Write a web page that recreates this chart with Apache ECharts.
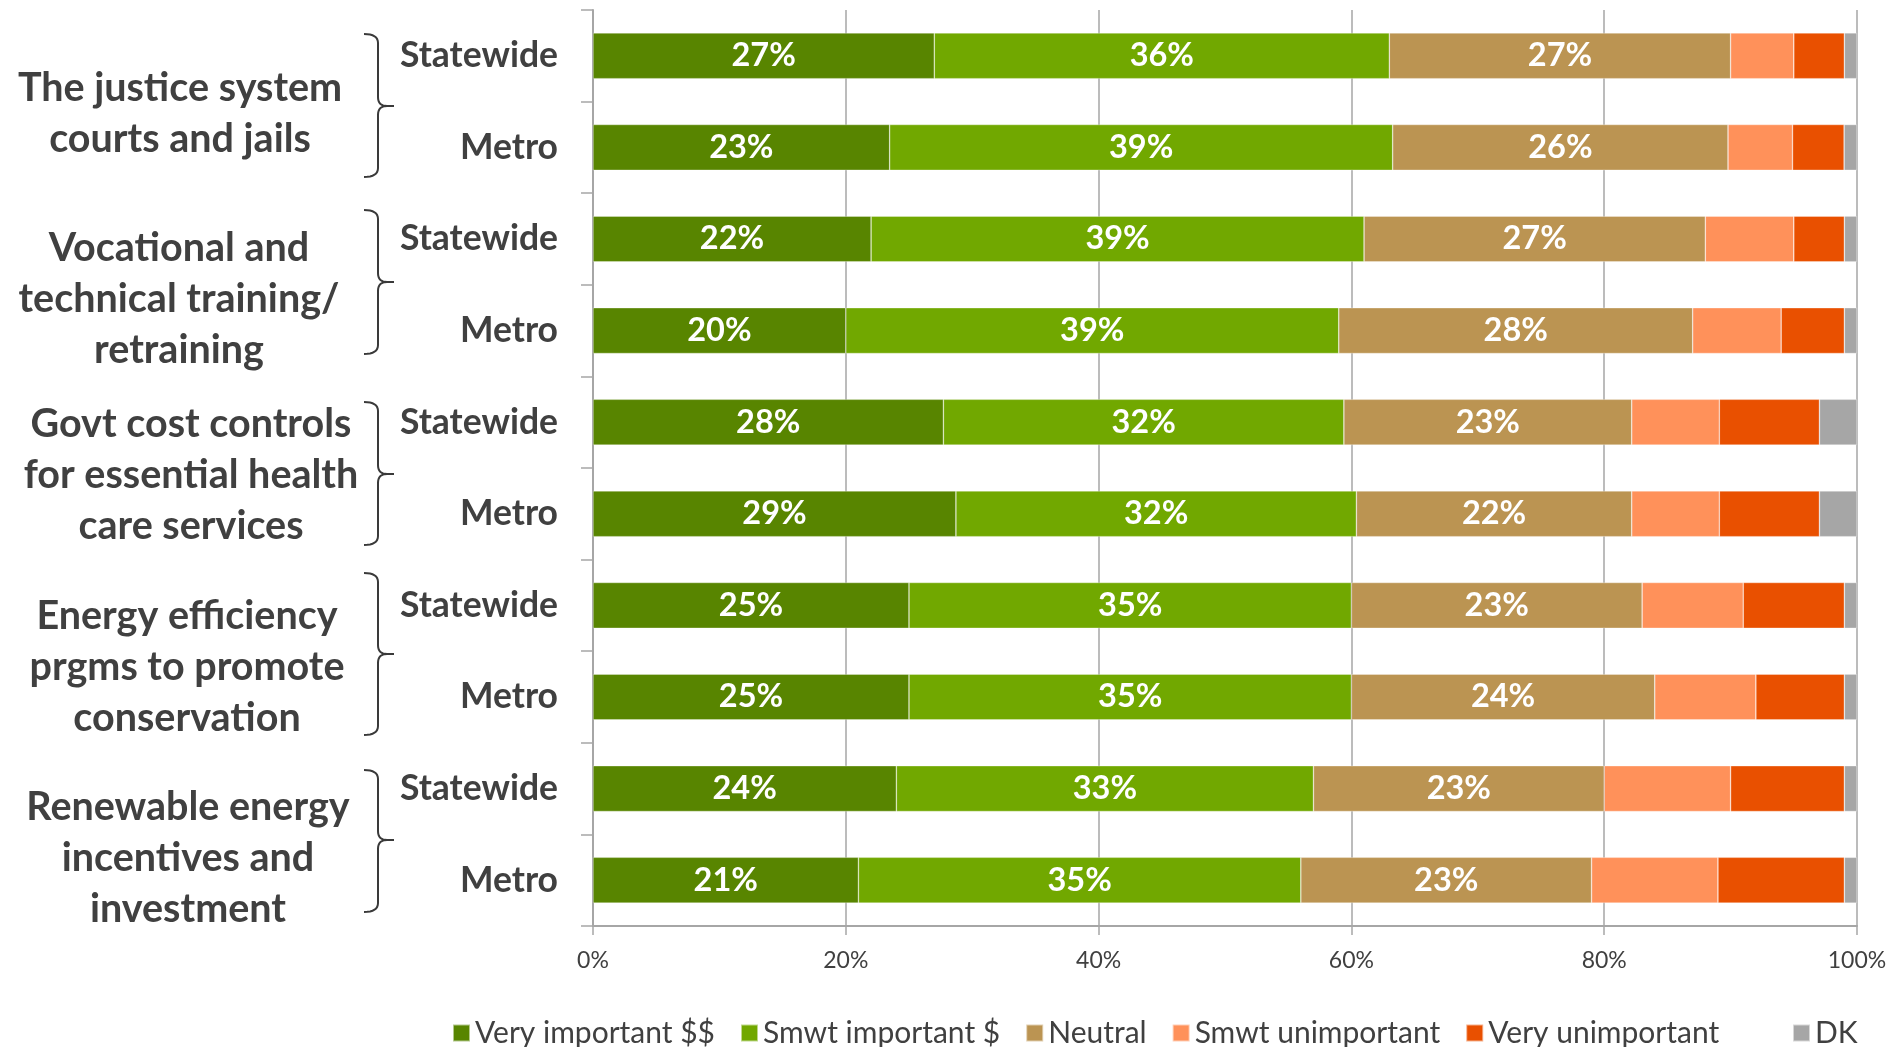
<!DOCTYPE html>
<html>
<head>
<meta charset="utf-8">
<script src="https://cdn.jsdelivr.net/npm/echarts@6/dist/echarts.min.js"></script>
<style>
  html, body { margin: 0; padding: 0; background: #ffffff; }
  #chart { width: 1895px; height: 1047px; }
</style>
</head>
<body>
<div id="chart"></div>
<script>
// Survey rows: two regions per policy topic
const regions = ['Statewide', 'Metro', 'Statewide', 'Metro', 'Statewide', 'Metro',
                 'Statewide', 'Metro', 'Statewide', 'Metro'];
const topics = [
  ['The justice system', 'courts and jails'],
  ['Vocational and', 'technical training/', 'retraining'],
  ['Govt cost controls', 'for essential health', 'care services'],
  ['Energy efficiency', 'prgms to promote', 'conservation'],
  ['Renewable energy', 'incentives and', 'investment']
];
const seriesNames = ['Very important $$', 'Smwt important $', 'Neutral',
                     'Smwt unimportant', 'Very unimportant', 'DK'];

// Raw survey percentages per row (rows may not total exactly 100)
const veryImportant   = [27, 23, 22, 20, 28, 29, 25, 25, 24, 21];
const smwtImportant   = [36, 39, 39, 39, 32, 32, 35, 35, 33, 35];
const neutral         = [27, 26, 27, 28, 23, 22, 23, 24, 23, 23];
const smwtUnimportant = [5, 5, 7, 7, 7, 7, 8, 8, 10, 10];
const veryUnimportant = [4, 4, 4, 5, 8, 8, 8, 7, 9, 10];
const dontKnow        = [1, 1, 1, 1, 3, 3, 1, 1, 1, 1];

const xTicks = [0, 20, 40, 60, 80, 100];

const colors = ['#588500', '#71a800', '#bb9452', '#ff915a', '#e95000', '#a6a6a6'];
const FONT = 'Lato, "Open Sans", sans-serif';
const TEXT = '#404040';

const rawSeries = [veryImportant, smwtImportant, neutral, smwtUnimportant, veryUnimportant, dontKnow];
const rowTotals = regions.map((_, i) => rawSeries.reduce((s, arr) => s + arr[i], 0));

// 100% stacked: each segment is its share of the row total
const series = rawSeries.map((arr, k) => ({
  name: seriesNames[k],
  type: 'bar',
  stack: 'total',
  barWidth: '50%',
  itemStyle: { color: colors[k], borderColor: 'rgba(255,255,255,0.55)', borderWidth: 0.6 },
  label: {
    show: k < 3,
    position: 'inside',
    color: '#ffffff',
    fontFamily: FONT,
    fontWeight: 'bold',
    fontSize: 32.5,
    formatter: p => arr[p.dataIndex] + '%'
  },
  emphasis: { disabled: true },
  data: arr.map((v, i) => v / rowTotals[i] * 100)
}));

// Topic captions and braces on the left
const topicLayout = [
  { cx: 180, cy: 114, top: 34, bottom: 177, tip: 106 },
  { cx: 179, cy: 299, top: 210, bottom: 354, tip: 282 },
  { cx: 191, cy: 475, top: 402, bottom: 545, tip: 474 },
  { cx: 187, cy: 667, top: 573, bottom: 735, tip: 654 },
  { cx: 188, cy: 858, top: 770, bottom: 912, tip: 840 }
];

function quad(p0, c, p1, n) {
  const pts = [];
  for (let i = 1; i <= n; i++) {
    const t = i / n, u = 1 - t;
    pts.push([u * u * p0[0] + 2 * u * t * c[0] + t * t * p1[0],
              u * u * p0[1] + 2 * u * t * c[1] + t * t * p1[1]]);
  }
  return pts;
}

function brace(top, bottom, tip) {
  const x0 = 364, xv = 378, xt = 394, r = 9;
  let pts = [[x0, top]];
  pts = pts.concat(quad([x0, top], [xv, top], [xv, top + r], 8));
  pts.push([xv, tip - r]);
  pts = pts.concat(quad([xv, tip - r], [xv, tip], [xv + r, tip], 8));
  pts.push([xt, tip]);
  pts.push([xv + r, tip]);
  pts = pts.concat(quad([xv + r, tip], [xv, tip], [xv, tip + r], 8));
  pts.push([xv, bottom - r]);
  pts = pts.concat(quad([xv, bottom - r], [xv, bottom], [x0, bottom], 8));
  return {
    type: 'polyline',
    shape: { points: pts },
    style: { stroke: '#3a3a3a', lineWidth: 2, fill: null }
  };
}

const graphics = [];
topics.forEach((lines, g) => {
  const L = topicLayout[g];
  graphics.push({
    type: 'text',
    x: L.cx,
    y: L.cy,
    style: {
      text: lines.join('\n'),
      fill: TEXT,
      fontFamily: FONT,
      fontWeight: 'bold',
      fontSize: 39.5,
      lineHeight: 51,
      align: 'center',
      verticalAlign: 'middle'
    }
  });
  graphics.push(brace(L.top, L.bottom, L.tip));
});

const legendCommon = {
  top: 1013,
  icon: 'rect',
  itemWidth: 17,
  itemHeight: 17,
  itemGap: 25,
  selectedMode: false,
  textStyle: { fontFamily: FONT, fontSize: 30, color: TEXT }
};

const chart = echarts.init(document.getElementById('chart'), null, { renderer: 'canvas' });
chart.setOption({
  animation: false,
  backgroundColor: '#ffffff',
  color: colors,
  grid: { left: 593, right: 38, top: 10, bottom: 121, containLabel: false },
  legend: [
    Object.assign({ data: seriesNames.slice(0, 5), left: 447 }, legendCommon),
    Object.assign({ data: seriesNames.slice(5), left: 1787 }, legendCommon)
  ],
  xAxis: {
    type: 'value',
    min: xTicks[0],
    max: xTicks[xTicks.length - 1],
    interval: 20,
    axisLine: { show: true, lineStyle: { color: '#a6a6a6', width: 2 } },
    axisTick: { show: true, length: 9, lineStyle: { color: '#a6a6a6', width: 1.5 } },
    splitLine: { show: true, lineStyle: { color: '#a6a6a6', width: 1.5 } },
    axisLabel: {
      formatter: '{value}%',
      margin: 23,
      fontFamily: FONT,
      fontSize: 23,
      color: TEXT
    }
  },
  yAxis: {
    type: 'category',
    inverse: true,
    data: regions,
    axisLine: { show: true, lineStyle: { color: '#a6a6a6', width: 2 } },
    axisTick: { show: true, length: 12, lineStyle: { color: '#a6a6a6', width: 1.5 } },
    axisLabel: {
      margin: 35,
      fontFamily: FONT,
      fontWeight: 'bold',
      fontSize: 35.5,
      color: TEXT
    }
  },
  graphic: { elements: graphics },
  series: series
});
</script>
</body>
</html>
